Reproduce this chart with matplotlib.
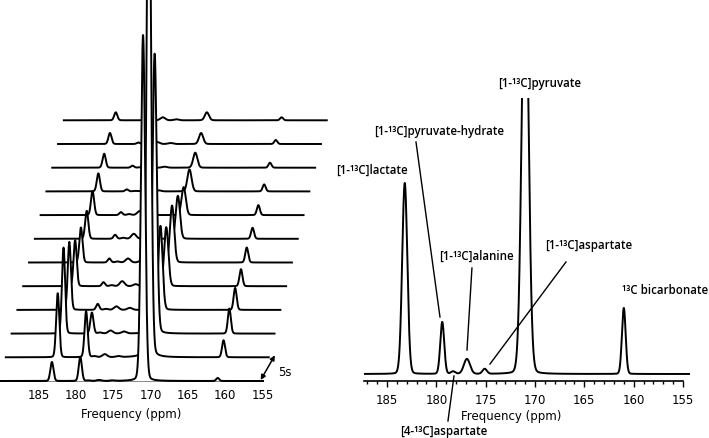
import numpy as np
import matplotlib
matplotlib.use("Agg")
import matplotlib.pyplot as plt
from matplotlib.ticker import MultipleLocator, FixedLocator

# ---------------- data ----------------
metabolites = ["lactate", "pyruvate-hydrate", "alanine", "4-aspartate",
               "1-aspartate", "pyruvate", "bicarbonate"]
shifts_ppm = [183.2, 179.4, 176.9, 178.3, 175.1, 171.0, 161.0]

# left panel: dynamic series, 12 spectra (5 s apart), peak heights
lactate_t = [19, 64, 86, 68, 46, 35, 28, 24, 18, 14, 11, 8]
hydrate_t = [24, 46, 21, 6, 4, 4, 4, 3, 2, 2, 1.5, 1]
alanine_t = [1, 3, 3, 3.5, 5, 4, 5, 4, 3, 2.5, 2, 3]
asp4_t = [0.5, 1, 1, 1, 1, 1, 1, 1, 0.5, 0.5, 0.5, 0.5]
asp1_t = [0.5, 1, 2, 2, 2, 2, 1.5, 1.5, 1, 1, 1, 1]
pyruvate_t = [346, 560, 280, 84, 59, 57, 43, 28, 22, 15, 11, 8]
bicarb_t = [3, 17, 25, 22, 17, 15, 11, 10, 7, 5, 4, 3]
left_widths = [0.21, 0.21, 0.32, 0.28, 0.32, 0.28, 0.20]

# right panel: summed spectrum
right_heights = [191, 52, 15, 2.5, 5, 430, 66]
right_widths = [0.26, 0.20, 0.31, 0.22, 0.22, 0.34, 0.19]

tick_values = [185, 180, 175, 170, 165, 160, 155]
tick_labels = ["185", "180", "175", "170", "165", "160", "155"]

labels = ["[1-¹³C]lactate", "[1-¹³C]pyruvate-hydrate", "[1-¹³C]alanine",
          "[4-¹³C]aspartate", "[1-¹³C]aspartate", "[1-¹³C]pyruvate",
          "¹³C bicarbonate"]

# ---------------- helpers ----------------
def peak(x, x0, h, s, eta):
    g = np.exp(-(x - x0) ** 2 / (2 * s ** 2))
    l = 1.0 / (1.0 + ((x - x0) / (1.1774 * s)) ** 2)
    return h * ((1 - eta) * g + eta * l)

def spectrum(x, heights, widths, eta):
    y = np.zeros_like(x)
    for x0, h, s in zip(shifts_ppm, heights, widths):
        y += peak(x, x0, h, s, eta)
    return y

fig = plt.figure(figsize=(7.09, 4.38), dpi=100)
tick_font = dict(family="DejaVu Sans", size=8.5)
ann_font = dict(family=["Open Sans", "DejaVu Sans"], size=8.3, weight="semibold")
LW = 1.4

# ---------------- left: stacked spectra ----------------
axL = fig.add_axes([0.0, 54 / 438, 330 / 709, 384 / 438])
x_left_lim = (190.15, 145.97)
x_span = (190.15, 154.95)
dx = 0.777   # ppm shift per spectrum
dy = 23.7    # vertical offset per spectrum
xs = np.linspace(x_span[0], x_span[1], 3000)
series = [lactate_t, hydrate_t, alanine_t, asp4_t, asp1_t, pyruvate_t, bicarb_t]
n = len(lactate_t)
for k in range(n - 1, -1, -1):
    heights = [s[k] for s in series]
    y = spectrum(xs, heights, left_widths, 0.08)
    xp = xs - k * dx
    base = k * dy
    z = 2 * (n - k)
    axL.fill_between(xp, base, y + base, color="white", zorder=z, lw=0)
    axL.plot(xp, y + base, color="black", lw=LW, zorder=z + 0.5,
             solid_joinstyle="round")

axL.set_xlim(*x_left_lim)
axL.set_ylim(-3, 381)
for sp in ["top", "left", "right"]:
    axL.spines[sp].set_visible(False)
axL.spines["bottom"].set_position(("data", 0))
axL.spines["bottom"].set_bounds(x_span[0], x_span[1])
axL.spines["bottom"].set_linewidth(1.3)
axL.set_yticks([])
axL.xaxis.set_major_locator(FixedLocator(tick_values))
axL.set_xticklabels(tick_labels, **tick_font)
axL.tick_params(axis="x", length=0, pad=5.5)
axL.set_xlabel("Frequency (ppm)", **tick_font)
axL.xaxis.set_label_coords(131 / 330, -0.062)
axL.patch.set_alpha(0)

# 5 s arrow
axL.annotate("", xy=(x_span[1] - 1.6, dy + 2), xytext=(x_span[1] + 0.3, 1),
             arrowprops=dict(arrowstyle="<|-|>", color="black", lw=1.1,
                             mutation_scale=7, shrinkA=0, shrinkB=0),
             annotation_clip=False, zorder=50)
axL.text(x_span[1] - 3.0, 9, "5s", ha="center", va="center", zorder=50, **tick_font)

# ---------------- right: single spectrum ----------------
axR = fig.add_axes([364 / 709, 57 / 438, 326 / 709, 283 / 438])
xr = np.linspace(187.33, 154.29, 3000)
yr = spectrum(xr, right_heights, right_widths, 0.05)
axR.plot(xr, yr, color="black", lw=LW)
axR.set_xlim(187.33, 154.29)
axR.set_ylim(-7, 276)
for sp in ["top", "left", "right"]:
    axR.spines[sp].set_visible(False)
axR.spines["bottom"].set_bounds(187.33, 155)
axR.spines["bottom"].set_linewidth(1.2)
axR.set_yticks([])
axR.xaxis.set_major_locator(FixedLocator(tick_values))
axR.xaxis.set_minor_locator(MultipleLocator(1))
axR.set_xticklabels(tick_labels, **tick_font)
axR.tick_params(axis="x", which="major", direction="out", length=4.5, width=1.0, pad=5.0)
axR.tick_params(axis="x", which="minor", direction="out", length=2.3, width=1.0)
axR.set_xlabel("Frequency (ppm)", **tick_font)
axR.xaxis.set_label_coords(147 / 326, -0.102)
axR.patch.set_alpha(0)

# annotations (text position, leader line start/end in data coords)
text_pos = {
    "[1-¹³C]lactate": (186.52, 204),
    "[1-¹³C]pyruvate-hydrate": (179.73, 243),
    "[1-¹³C]alanine": (175.98, 118),
    "[4-¹³C]aspartate": (179.22, -58),
    "[1-¹³C]aspartate": (164.53, 129),
    "[1-¹³C]pyruvate": (169.5, 290),
    "¹³C bicarbonate": (156.83, 83),
}
leaders = {
    "[1-¹³C]pyruvate-hydrate": ((182.06, 232), (179.63, 57)),
    "[1-¹³C]alanine": ((176.39, 106), (176.89, 24)),
    "[1-¹³C]aspartate": ((166.86, 112), (174.56, 10)),
    "[4-¹³C]aspartate": ((178.21, -2), (178.82, -47)),
}
for lab in labels:
    tx, ty = text_pos[lab]
    axR.text(tx, ty, lab, ha="center", va="center", clip_on=False, **ann_font)
    if lab in leaders:
        (x0, y0), (x1, y1) = leaders[lab]
        axR.plot([x0, x1], [y0, y1], color="black", lw=1.0, clip_on=False)

fig.savefig("out.png", dpi=100)
